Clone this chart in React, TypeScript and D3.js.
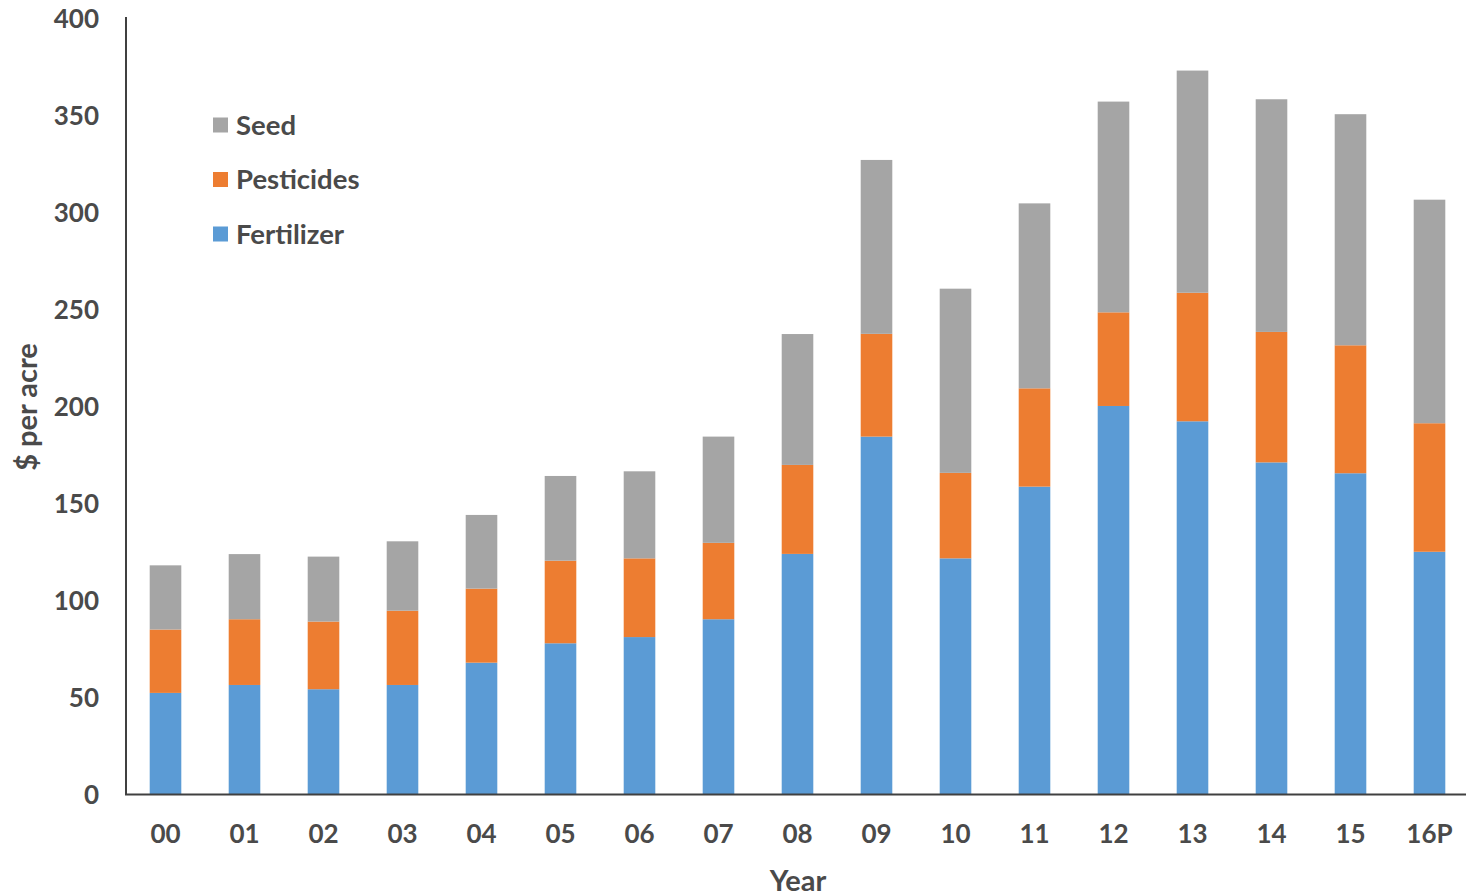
import React from "react";
import * as d3 from "d3";

const years = ["00", "01", "02", "03", "04", "05", "06", "07", "08", "09", "10", "11", "12", "13", "14", "15", "16P"];
const fertilizer = [52.4, 56.5, 54.3, 56.5, 68.0, 78.0, 81.2, 90.4, 124.1, 184.6, 121.8, 158.8, 200.4, 192.5, 171.3, 165.7, 125.2];
const pesticides = [32.7, 33.9, 34.9, 38.3, 38.2, 42.6, 40.6, 39.4, 45.9, 53.0, 44.1, 50.7, 48.3, 66.3, 67.3, 66.0, 66.3];
const seed = [33.1, 33.6, 33.5, 35.8, 38.0, 43.7, 44.9, 54.8, 67.5, 89.7, 95.0, 95.4, 108.7, 114.6, 120.0, 119.2, 115.3];
const seriesKeys = ["Fertilizer", "Pesticides", "Seed"];
const seriesColors = ["#5B9BD5", "#ED7D31", "#A5A5A5"];
const legendOrder = ["Seed", "Pesticides", "Fertilizer"];
const yTicks = [0, 50, 100, 150, 200, 250, 300, 350, 400];

const W = 1466;
const H = 896;
const FONT = "Lato, 'Open Sans', sans-serif";
const TEXT = "#4a4a4a";

export default function App() {
  const rows = years.map((y, i) => ({
    year: y,
    Fertilizer: fertilizer[i],
    Pesticides: pesticides[i],
    Seed: seed[i],
  }));
  const stacked = d3.stack<any>().keys(seriesKeys)(rows);

  const x = d3.scaleBand<string>().domain(years).range([126, 1469]).paddingInner(0.6).paddingOuter(0.3);
  const y = d3.scaleLinear().domain([0, 400]).range([794.5, 19]);
  const color = d3.scaleOrdinal<string, string>().domain(seriesKeys).range(seriesColors);

  return (
    <svg width={W} height={H} style={{ position: "absolute", left: 0, top: 0, background: "#fff" }} fontFamily={FONT}>
      {stacked.map((layer) => (
        <g key={layer.key} fill={color(layer.key)}>
          {layer.map((d, i) => (
            <rect
              key={i}
              x={x(years[i])}
              width={x.bandwidth()}
              y={y(d[1])}
              height={y(d[0]) - y(d[1])}
            />
          ))}
        </g>
      ))}

      {/* axes */}
      <line x1={126} x2={126} y1={17} y2={y(0)} stroke="#404040" strokeWidth={2} />
      <line x1={125} x2={W} y1={y(0)} y2={y(0)} stroke="#404040" strokeWidth={2} />

      {yTicks.map((t) => (
        <text key={t} x={99} y={y(t)} dy="0.35em" textAnchor="end" fontSize={26} fontWeight="bold" fill={TEXT}>
          {t}
        </text>
      ))}

      {years.map((yr) => (
        <text
          key={yr}
          x={(x(yr) as number) + x.bandwidth() / 2}
          y={834}
          dy="0.35em"
          textAnchor="middle"
          fontSize={26}
          fontWeight="bold"
          fill={TEXT}
        >
          {yr}
        </text>
      ))}

      <text x={798} y={891} textAnchor="middle" fontSize={29} fontWeight="bold" fill={TEXT}>
        Year
      </text>
      <text
        transform={`translate(27,407) rotate(-90)`}
        textAnchor="middle"
        dy="0.35em"
        fontSize={29}
        fontWeight="bold"
        fill={TEXT}
      >
        $ per acre
      </text>

      {/* legend */}
      {legendOrder.map((k, i) => (
        <g key={k} transform={`translate(213,${125 + i * 54.5})`}>
          <rect x={0} y={-7.5} width={15} height={15} fill={color(k)} />
          <text x={23} y={0} dy="0.35em" fontSize={27.5} fontWeight="bold" fill={TEXT}>
            {k}
          </text>
        </g>
      ))}
    </svg>
  );
}
